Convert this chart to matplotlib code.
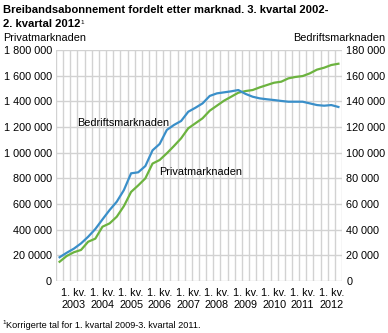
import numpy as np
import matplotlib.pyplot as plt

plt.rcParams['font.family'] = ['Liberation Sans', 'DejaVu Sans']

# quarters from 3. kv. 2002 to 2. kv. 2012
years = list(range(2003, 2013))
privat = [150000, 195000, 224000, 242000, 306000, 330000, 423000, 449000, 501000, 584000,
          694000, 745000, 800000, 915000, 943000, 995000, 1052000, 1112000, 1190000, 1229000,
          1268000, 1327000, 1366000, 1405000, 1436000, 1467000, 1480000, 1488000, 1509000, 1527000,
          1545000, 1553000, 1579000, 1590000, 1597000, 1618000, 1647000, 1662000, 1683000, 1693000]
bedrift = [18500, 22000, 25200, 29300, 34500, 40500, 48000, 55300, 61800, 70900,
           83900, 84700, 89600, 101800, 106800, 117700, 121600, 124700, 131900, 135000,
           138400, 144200, 146200, 147000, 147800, 148800, 145800, 143600, 142300, 141600,
           141000, 140300, 139700, 139700, 139700, 138400, 137100, 136600, 137100, 135600]
left_ticks = [0, 200000, 400000, 600000, 800000, 1000000, 1200000, 1400000, 1600000, 1800000]
left_labels = ['0', '20 0000', '400 000', '600 000', '800 000', '1 000 000',
               '1 200 000', '1 400 000', '1 600 000', '1 800 000']
right_ticks = [0, 20000, 40000, 60000, 80000, 100000, 120000, 140000, 160000, 180000]
right_labels = ['0', '20 000', '40 000', '60 000', '80 000', '100 000',
                '120 000', '140 000', '160 000', '180 000']

blue = '#3a8fc9'
green = '#6cb33f'
grid = '#d2d2d2'
fs = 7.8

fig = plt.figure(figsize=(3.88, 3.33), dpi=100)
ax = fig.add_axes([56/388, 52/333, 286/388, 231/333])
x = np.arange(len(privat))

ax.set_xlim(-0.5, len(privat) - 0.5)
ax.set_ylim(0, 1800000)
ax.set_xticks(np.arange(-0.5, len(privat)), minor=True)
ax.set_xticks([2 + 4*k for k in range(len(years))])
ax.set_xticklabels(['1. kv.\n%d' % y for y in years], fontsize=fs, linespacing=1.2)
ax.set_yticks(left_ticks)
ax.set_yticklabels(left_labels, fontsize=fs)
ax.grid(True, which='minor', axis='x', color=grid, linewidth=1)
ax.grid(True, which='major', axis='y', color=grid, linewidth=1)
ax.tick_params(length=0, which='both', pad=3)
ax.tick_params(axis='x', pad=5)
for s in ax.spines.values():
    s.set_visible(False)
ax.set_axisbelow(True)

ax2 = ax.twinx()
ax2.set_ylim(0, 180000)
ax2.set_yticks(right_ticks)
ax2.set_yticklabels(right_labels, fontsize=fs)
ax2.tick_params(length=0, pad=3)
for s in ax2.spines.values():
    s.set_visible(False)

ax.plot(x, privat, color=green, linewidth=1.6, zorder=3)
ax2.plot(x, bedrift, color=blue, linewidth=1.6, zorder=3)

ax.text(2.5, 1230000, 'Bedriftsmarknaden', fontsize=fs, ha='left', va='center')
ax.text(13.9, 850000, 'Privatmarknaden', fontsize=fs, ha='left', va='center')

tfs = 8.1
fig.text(3/388, 1 - 10/333, 'Breibandsabonnement fordelt etter marknad. 3. kvartal 2002-',
         fontsize=tfs, fontweight='bold', va='center')
t2 = fig.text(3/388, 1 - 24/333, '2. kvartal 2012',
              fontsize=tfs, fontweight='bold', va='center')
fig.canvas.draw()
bb = t2.get_window_extent()
fig.text((bb.x1 + 0.5)/388, (bb.y1 - 1)/333, '1', fontsize=4.5, va='top')
fig.text(3/388, 1 - 38/333, 'Privatmarknaden', fontsize=fs, va='center')
fig.text(385/388, 1 - 38/333, 'Bedriftsmarknaden', fontsize=fs, va='center', ha='right')
fig.text(2/388, 1 - 322/333, '1', fontsize=4.5, va='center')
fig.text(6/388, 1 - 325/333, 'Korrigerte tal for 1. kvartal 2009-3. kvartal 2011.',
         fontsize=6.6, va='center')

fig.savefig('out.png', dpi=100)
